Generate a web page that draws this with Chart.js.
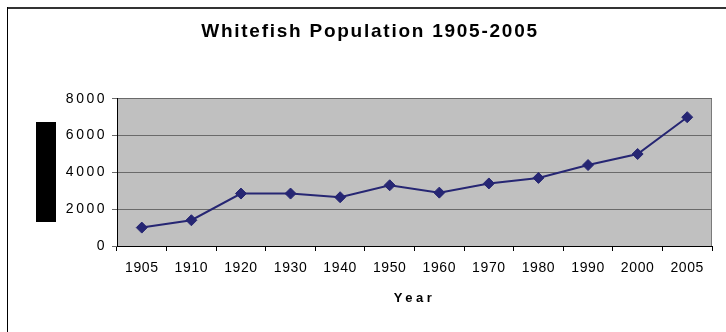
<!DOCTYPE html>
<html>
<head>
<meta charset="utf-8">
<script src="https://cdn.jsdelivr.net/npm/chart.js@4/dist/chart.umd.min.js"></script>
<style>
  html, body { margin: 0; padding: 0; background: #ffffff; }
  #wrap { width: 726px; height: 332px; position: relative; }
</style>
</head>
<body>
<div id="wrap"><canvas id="c" width="726" height="332"></canvas></div>
<script>
const years = ['1905', '1910', '1920', '1930', '1940', '1950', '1960', '1970', '1980', '1990', '2000', '2005'];
const population = [1000, 1400, 2850, 2850, 2650, 3300, 2900, 3400, 3700, 4400, 5000, 7000];
const yTicks = [0, 2000, 4000, 6000, 8000];
const chartTitle = 'Whitefish Population 1905-2005';
const xTitle = 'Year';

const spacingPlugin = {
  id: 'spacing',
  afterLayout(chart) {
    const ctx = chart.ctx;
    const conf = { x: { labels: '0.6px', title: '3.5px' }, y: { labels: '2.5px', title: '0px' } };
    Object.keys(conf).forEach(id => {
      const s = chart.scales[id];
      if (!s || s._spPatched) return;
      s._spPatched = true;
      const dl = s.drawLabels.bind(s);
      const dt = s.drawTitle.bind(s);
      s.drawLabels = function (a) { ctx.save(); ctx.letterSpacing = conf[id].labels; dl(a); ctx.restore(); };
      s.drawTitle = function () { ctx.save(); ctx.letterSpacing = conf[id].title; dt(); ctx.restore(); };
    });
  },
  beforeDraw(chart) {
    const { ctx, chartArea: a } = chart;
    ctx.letterSpacing = '1.75px';
    ctx.save();
    ctx.fillStyle = '#c0c0c0';
    ctx.fillRect(a.left, a.top, a.right - a.left, a.bottom - a.top);
    ctx.strokeStyle = '#7a7a7a';
    ctx.lineWidth = 1;
    ctx.beginPath();
    ctx.moveTo(Math.round(a.right) - 0.5, a.top);
    ctx.lineTo(Math.round(a.right) - 0.5, a.bottom);
    ctx.stroke();
    // outer frame
    ctx.fillStyle = '#333333';
    ctx.fillRect(7, 7, 726 - 7, 2);
    ctx.fillStyle = '#000000';
    ctx.fillRect(7, 7, 1, 332 - 7);
    ctx.restore();
  },
  afterDraw(chart) {
    const ctx = chart.ctx;
    ctx.save();
    ctx.fillStyle = '#000000';
    ctx.fillRect(36, 122, 20, 100);
    ctx.restore();
  }
};

new Chart(document.getElementById('c'), {
  type: 'line',
  data: {
    labels: years,
    datasets: [{
      data: population,
      borderColor: '#262673',
      backgroundColor: '#262673',
      borderWidth: 2,
      pointStyle: 'rectRot',
      pointRadius: 5.5,
      pointBorderWidth: 1,
      pointBackgroundColor: '#262673',
      pointBorderColor: '#262673',
      tension: 0,
      fill: false
    }]
  },
  options: {
    responsive: false,
    animation: false,
    devicePixelRatio: 1,
    layout: { padding: { left: 28, right: 14, top: 0, bottom: 0 } },
    plugins: {
      legend: { display: false },
      tooltip: { enabled: false },
      title: {
        display: true,
        text: chartTitle,
        color: '#000000',
        font: { family: 'Liberation Sans', size: 19, weight: 'bold' },
        padding: { top: 20, bottom: 56 }
      }
    },
    scales: {
      x: {
        type: 'category',
        offset: true,
        grid: { display: true, drawOnChartArea: false, drawTicks: true, tickLength: 5, offset: true, color: '#000000' },
        border: { display: true, color: '#000000', width: 1 },
        ticks: {
          color: '#000000',
          font: { family: 'Liberation Sans', size: 14 },
          padding: 9,
          maxRotation: 0,
          autoSkip: false
        },
        title: {
          display: true,
          text: xTitle,
          color: '#000000',
          font: { family: 'Liberation Sans', size: 13, weight: 'bold' },
          padding: { top: 0, bottom: 26 }
        },
        afterFit(s) { s.height = 86; }
      },
      y: {
        min: 0,
        max: 8000,
        afterBuildTicks(s) { s.ticks = yTicks.map(v => ({ value: v })); },
        grid: { color: '#6a6a6a', drawTicks: true, tickLength: 5, lineWidth: 1 },
        border: { display: true, color: '#000000', width: 1 },
        ticks: {
          color: '#000000',
          font: { family: 'Liberation Sans', size: 14 },
          padding: 5,
          callback: v => String(v)
        },
        afterFit(s) { s.width = 89; }
      }
    }
  },
  plugins: [spacingPlugin]
});
</script>
</body>
</html>
